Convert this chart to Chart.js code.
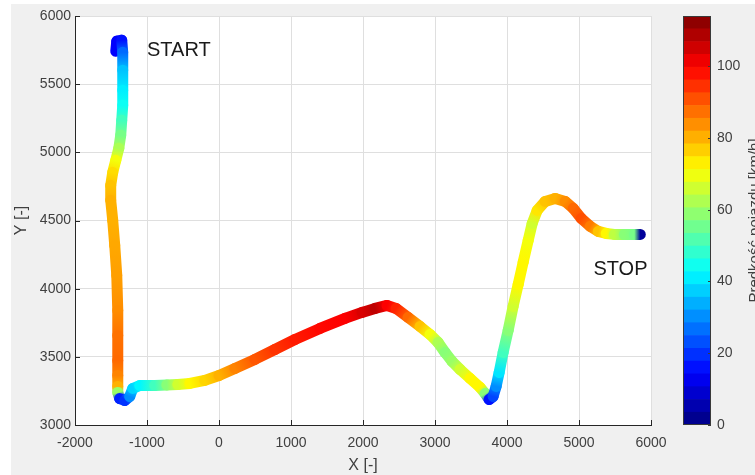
<!DOCTYPE html>
<html>
<head>
<meta charset="utf-8">
<script src="https://cdn.jsdelivr.net/npm/chart.js@4/dist/chart.umd.min.js"></script>
<style>
  html, body { margin: 0; padding: 0; background: #ffffff; }
  #fig { position: absolute; left: 11px; top: 4px; width: 744px; height: 471px; background: #f0f0f0; }
  #main { position: absolute; left: 0; top: 0; }
  #cbar { position: absolute; left: 660px; top: 0; }
</style>
</head>
<body>
<div id="fig"></div>
<canvas id="main" width="755" height="475"></canvas>
<canvas id="cbar" width="95" height="475"></canvas>
<script>
// Vehicle trajectory: position [-] and speed [km/h] at each recorded point
const posX = [-1434, -1420, -1351, -1337, -1337, -1337, -1337, -1351, -1365, -1392,
              -1434, -1476, -1504, -1504, -1476, -1448, -1420, -1406, -1406, -1406,
              -1406, -1406, -1406, -1379, -1309, -1240, -1198, -1100, -892, -725,
              -572, -405, -197, 0, 220, 498, 776, 1055, 1402, 1750,
              1986, 2167, 2334, 2459, 2626, 2792, 2931, 3043, 3140, 3237,
              3349, 3488, 3627, 3696, 3752, 3807, 3849, 3891, 3946, 4016,
              4085, 4155, 4224, 4294, 4350, 4419, 4530, 4669, 4808, 4920,
              5031, 5156, 5267, 5378, 5490, 5629, 5768, 5851];
const posY = [5741, 5815, 5822, 5734, 5602, 5455, 5345, 5235, 5125, 5029,
              4941, 4853, 4758, 4648, 4501, 4317, 4097, 3840, 3657, 3473,
              3363, 3283, 3239, 3194, 3180, 3209, 3268, 3290, 3290, 3294,
              3297, 3305, 3327, 3363, 3415, 3481, 3554, 3627, 3708, 3782,
              3826, 3855, 3877, 3855, 3789, 3723, 3664, 3605, 3532, 3466,
              3407, 3341, 3275, 3231, 3187, 3209, 3283, 3385, 3532, 3694,
              3870, 4031, 4193, 4354, 4479, 4574, 4640, 4662, 4640, 4589,
              4515, 4457, 4420, 4405, 4398, 4398, 4398, 4398];
const speed = [14, 14, 16, 26, 36, 41, 44, 50, 56, 62,
               70, 75, 78, 80, 80, 81, 82, 84, 87, 88,
               85, 80, 60, 18, 20, 30, 38, 42, 50, 58,
               66, 72, 76, 80, 85, 90, 94, 97, 99, 100,
               104, 107, 100, 96, 88, 78, 70, 62, 58, 60,
               66, 72, 72, 58, 16, 22, 30, 40, 50, 58,
               66, 72, 72, 70, 66, 74, 78, 80, 84, 88,
               91, 86, 78, 72, 64, 58, 56, 3];

// Text annotations at the ends of the route
const markText = ['START', 'STOP'];
const markX = [-1000, 5200];
const markY = [5750, 4140];

// Axis ranges and colour scale
const xRange = [-2000, 6000];
const yRange = [3000, 6000];
const speedMax = 114;
const colorLevels = 32;
const speedTitle = 'Prędkość pojazdu [km/h]';

const FONT = "'Liberation Sans', Arial, Helvetica, sans-serif";
const TEXT = '#404040';
const AXIS = '#262626';
const GRID = '#dfdfdf';

function clamp01(v) { return Math.max(0, Math.min(1, v)); }
function jet(t) {
  const r = clamp01(Math.min(4 * t - 1.5, -4 * t + 4.5));
  const g = clamp01(Math.min(4 * t - 0.5, -4 * t + 3.5));
  const b = clamp01(Math.min(4 * t + 0.5, -4 * t + 2.5));
  return `rgb(${Math.round(r * 255)},${Math.round(g * 255)},${Math.round(b * 255)})`;
}
function speedColor(v) { return jet(clamp01(v / speedMax)); }
const plainNumber = v => String(v);

// White plot area on the grey figure background
const plotBackground = {
  id: 'plotBackground',
  beforeDraw(chart) {
    const { ctx, chartArea: a } = chart;
    ctx.save();
    ctx.fillStyle = '#ffffff';
    ctx.fillRect(a.left, a.top, a.right - a.left, a.bottom - a.top);
    ctx.restore();
  }
};

// Short inward tick marks on the left and bottom axes
const innerTicks = {
  id: 'innerTicks',
  beforeDatasetsDraw(chart) {
    const { ctx, chartArea: a, scales } = chart;
    ctx.save();
    ctx.strokeStyle = AXIS;
    ctx.lineWidth = 1;
    ctx.beginPath();
    scales.x.ticks.forEach(t => {
      const px = Math.round(scales.x.getPixelForValue(t.value)) + 0.5;
      ctx.moveTo(px, a.bottom);
      ctx.lineTo(px, a.bottom - 5);
    });
    scales.y.ticks.forEach(t => {
      const py = Math.round(scales.y.getPixelForValue(t.value)) + 0.5;
      ctx.moveTo(a.left, py);
      ctx.lineTo(a.left + 5, py);
    });
    ctx.stroke();
    ctx.restore();
  }
};

// START / STOP labels placed in data coordinates
const routeLabels = {
  id: 'routeLabels',
  afterDatasetsDraw(chart) {
    const { ctx, scales } = chart;
    ctx.save();
    ctx.font = `20px ${FONT}`;
    ctx.fillStyle = '#1a1a1a';
    ctx.textAlign = 'left';
    ctx.textBaseline = 'middle';
    markText.forEach((txt, i) => {
      ctx.fillText(txt, scales.x.getPixelForValue(markX[i]), scales.y.getPixelForValue(markY[i]));
    });
    ctx.restore();
  }
};

new Chart(document.getElementById('main'), {
  type: 'scatter',
  data: {
    datasets: [{
      data: posX.map((x, i) => ({ x, y: posY[i] })),
      showLine: true,
      borderWidth: 11,
      borderCapStyle: 'round',
      borderJoinStyle: 'round',
      borderColor: speedColor(speed[0]),
      pointRadius: 0,
      pointHoverRadius: 0,
      segment: {
        borderColor(c) {
          const g = c.chart.ctx.createLinearGradient(c.p0.x, c.p0.y, c.p1.x, c.p1.y);
          g.addColorStop(0, speedColor(speed[c.p0DataIndex]));
          g.addColorStop(1, speedColor(speed[c.p1DataIndex]));
          return g;
        }
      }
    }]
  },
  options: {
    responsive: false,
    animation: false,
    events: [],
    layout: { padding: { left: 0, top: 16, right: 104, bottom: 0 } },
    plugins: { legend: { display: false }, tooltip: { enabled: false } },
    scales: {
      x: {
        type: 'linear',
        min: xRange[0], max: xRange[1],
        afterFit(s) { s.height = 50; },
        ticks: { stepSize: 1000, autoSkip: false, maxRotation: 0, padding: 10,
                 callback: plainNumber,
                 color: TEXT, font: { family: FONT, size: 14 } },
        grid: { color: GRID, lineWidth: 1, drawTicks: false },
        border: { color: AXIS, width: 1 },
        title: { display: true, text: 'X [-]', color: TEXT,
                 font: { family: FONT, size: 16 }, padding: { top: 0, bottom: 0 } }
      },
      y: {
        type: 'linear',
        min: yRange[0], max: yRange[1],
        afterFit(s) { s.width = 75; },
        ticks: { stepSize: 500, autoSkip: false, padding: 4,
                 callback: plainNumber,
                 color: TEXT, font: { family: FONT, size: 14 } },
        grid: { color: GRID, lineWidth: 1, drawTicks: false },
        border: { color: AXIS, width: 1 },
        title: { display: true, text: 'Y [-]', color: TEXT,
                 font: { family: FONT, size: 16 }, padding: { top: 12, bottom: 0 } }
      }
    }
  },
  plugins: [plotBackground, innerTicks, routeLabels]
});

// Colour bar: stacked levels of the jet map with its own speed axis
const colorbarFrame = {
  id: 'colorbarFrame',
  afterDraw(chart) {
    const { ctx, chartArea: a, scales } = chart;
    ctx.save();
    ctx.strokeStyle = '#3a3a3a';
    ctx.lineWidth = 1;
    ctx.strokeRect(Math.round(a.left) + 0.5, Math.round(a.top) + 0.5,
                   Math.round(a.right - a.left) - 1, Math.round(a.bottom - a.top) - 1);
    ctx.beginPath();
    scales.y.ticks.forEach(t => {
      const py = Math.round(scales.y.getPixelForValue(t.value)) + 0.5;
      ctx.moveTo(a.right, py);
      ctx.lineTo(a.right - 3, py);
    });
    ctx.stroke();
    // axis label, reading upwards
    ctx.translate(99, (a.top + a.bottom) / 2);
    ctx.rotate(-Math.PI / 2);
    ctx.font = `15px ${FONT}`;
    ctx.fillStyle = TEXT;
    ctx.textAlign = 'center';
    ctx.textBaseline = 'alphabetic';
    ctx.fillText(speedTitle, 0, 0);
    ctx.restore();
  }
};

const levelDatasets = Array.from({ length: colorLevels }, (_, i) => ({
  data: [speedMax / colorLevels],
  backgroundColor: jet((i + 0.5) / colorLevels),
  borderWidth: 0,
  barPercentage: 1,
  categoryPercentage: 1
}));

new Chart(document.getElementById('cbar'), {
  type: 'bar',
  data: { labels: [''], datasets: levelDatasets },
  options: {
    responsive: false,
    animation: false,
    events: [],
    layout: { padding: { left: 23, top: 16, right: 0, bottom: 50 } },
    plugins: { legend: { display: false }, tooltip: { enabled: false } },
    scales: {
      x: { display: false, stacked: true },
      y: {
        stacked: true,
        position: 'right',
        min: 0, max: speedMax,
        afterFit(s) { s.width = 44; },
        ticks: { stepSize: 20, includeBounds: false, padding: 6,
                 color: TEXT, font: { family: FONT, size: 14 } },
        grid: { drawOnChartArea: false, drawTicks: false },
        border: { display: false }
      }
    }
  },
  plugins: [colorbarFrame]
});
</script>
</body>
</html>
